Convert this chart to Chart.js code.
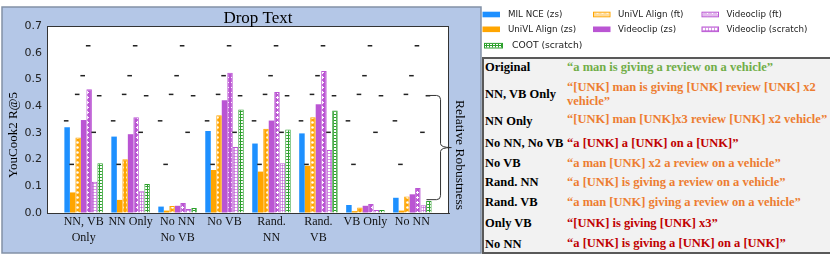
<!DOCTYPE html>
<html>
<head>
<meta charset="utf-8">
<script src="https://cdn.jsdelivr.net/npm/chart.js@4.4.1/dist/chart.umd.min.js"></script>
<style>
  html, body { margin: 0; padding: 0; background: #fff; }
  #wrap { position: relative; width: 830px; height: 260px; overflow: hidden; }
  #chart { position: absolute; left: 0; top: 0; }
  #examples {
    position: absolute; left: 482px; top: 57px; width: 352px; height: 197px;
    box-sizing: border-box; border: 2px solid #595959; background: #f2f2f2;
    font-family: 'Liberation Serif', 'Times New Roman', serif; font-weight: bold; font-size: 12.5px;
  }
  .ex-name, .ex-text { position: absolute; white-space: pre; line-height: 14.4px; }
  .ex-name { left: 1px; color: #000; }
  .ex-text { left: 83px; }
</style>
</head>
<body>
<div id="wrap">
  <canvas id="chart" width="830" height="260"></canvas>
  <div id="examples"></div>
</div>
<script>
'use strict';

// ---- data ----
const groupLabels = [['NN, VB', 'Only'], 'NN Only', ['No NN', 'No VB'], 'No VB', ['Rand.', 'NN'], ['Rand.', 'VB'], 'VB Only', 'No NN'];
const seriesNames = ['MIL NCE (zs)', 'UniVL Align (zs)', 'UniVL Align (ft)', 'Videoclip (zs)', 'Videoclip (ft)', 'Videoclip (scratch)', 'COOT (scratch)'];

const milNceZs         = [0.321, 0.286, 0.024, 0.307, 0.260, 0.298, 0.030, 0.057];
const univlAlignZs     = [0.077, 0.049, 0.009, 0.161, 0.155, 0.177, 0.007, 0.009];
const univlAlignFt     = [0.283, 0.201, 0.026, 0.366, 0.315, 0.358, 0.021, 0.062];
const videoclipZs      = [0.348, 0.295, 0.027, 0.422, 0.346, 0.407, 0.027, 0.070];
const videoclipFt      = [0.463, 0.358, 0.037, 0.525, 0.453, 0.532, 0.034, 0.094];
const videoclipScratch = [0.117, 0.081, 0.015, 0.247, 0.186, 0.236, 0.011, 0.029];
const cootScratch      = [0.186, 0.109, 0.019, 0.387, 0.313, 0.384, 0.011, 0.045];

// score on the original (unperturbed) text, one per model
const originalScores = [0.345, 0.182, 0.444, 0.514, 0.626, 0.302, 0.439];

const yMin = 0;
const yMax = 0.7;
const yStep = 0.1;
const braceRange = [0.05, 0.44];

const exampleNames = ['Original', 'NN, VB Only', 'NN Only', 'No NN, No VB', 'No VB', 'Rand. NN', 'Rand. VB', 'Only VB', 'No NN'];
const exampleTexts = [
  '\u201ca man is giving a review on a vehicle\u201d',
  '\u201c[UNK] man is giving [UNK] review [UNK] x2\nvehicle\u201d',
  '\u201c[UNK] man [UNK]x3 review [UNK] x2 vehicle\u201d',
  '\u201ca [UNK] a [UNK] on a [UNK]\u201d',
  '\u201ca man [UNK] x2 a review on a vehicle\u201d',
  '\u201ca [UNK] is giving a review on a vehicle\u201d',
  '\u201ca man [UNK] giving a review on a vehicle\u201d',
  '\u201c[UNK] is giving [UNK] x3\u201d',
  '\u201ca [UNK] is giving a [UNK] on a [UNK]\u201d'
];
const exampleKinds = ['original', 'mild', 'mild', 'severe', 'mild', 'mild', 'mild', 'severe', 'severe'];

// ---- styling ----
const SERIF = "'Liberation Serif', 'Times New Roman', serif";
const SANS = "'DejaVu Sans', sans-serif";
const BLUE = '#1e90ff';
const ORANGE = '#ffa500';
const ORCHID = '#ba55d3';
const GREEN = '#2ca02c';
const kindColors = { original: '#70ad47', mild: '#ed7d31', severe: '#c00000' };

function tile(size, paint) {
  const c = document.createElement('canvas');
  c.width = size; c.height = size;
  const g = c.getContext('2d');
  paint(g, size);
  return g.createPattern(c, 'repeat');
}

const dotFill = (bg) => tile(5, (g, s) => {
  g.fillStyle = bg; g.fillRect(0, 0, s, s);
  g.fillStyle = '#fff';
  g.beginPath(); g.arc(2.5, 2.5, 1.3, 0, Math.PI * 2); g.fill();
});
const starFill = (bg) => tile(5, (g, s) => {
  g.fillStyle = bg; g.fillRect(0, 0, s, s);
  g.fillStyle = '#fff';
  g.fillRect(2, 1, 1, 3);
  g.fillRect(1, 2, 3, 1);
});
const gridFill = (line, alpha) => tile(3, (g, s) => {
  g.fillStyle = '#fff'; g.fillRect(0, 0, s, s);
  g.globalAlpha = alpha;
  g.fillStyle = line;
  g.fillRect(0, 0, s, 1);
  g.fillRect(0, 0, 1, s);
});

const seriesValues = [milNceZs, univlAlignZs, univlAlignFt, videoclipZs, videoclipFt, videoclipScratch, cootScratch];
const seriesStyle = [
  { fill: BLUE, border: BLUE, bw: 0, hatch: null },
  { fill: ORANGE, border: ORANGE, bw: 0, hatch: null },
  { fill: dotFill(ORANGE), border: ORANGE, bw: 1, hatch: 'light' },
  { fill: ORCHID, border: ORCHID, bw: 0, hatch: null },
  { fill: starFill(ORCHID), border: ORCHID, bw: 1, hatch: 'light' },
  { fill: gridFill(ORCHID, 0.6), border: ORCHID, bw: 1, hatch: 'grid' },
  { fill: gridFill(GREEN, 1), border: GREEN, bw: 1, hatch: 'grid' }
];

const CAT_PCT = 0.82;
const slot = CAT_PCT / seriesNames.length;

const barSets = seriesNames.map((name, j) => ({
  type: 'bar',
  label: name,
  data: seriesValues[j].map((v, i) => ({ x: i, y: v })),
  backgroundColor: seriesStyle[j].fill,
  borderColor: seriesStyle[j].border,
  borderWidth: seriesStyle[j].bw,
  borderSkipped: 'bottom',
  categoryPercentage: CAT_PCT,
  barPercentage: 1,
  order: 2
}));

// short black dashes marking each model's original score above every group
const dashSets = seriesNames.map((name, j) => ({
  type: 'scatter',
  label: name + ' original',
  data: groupLabels.map((_, i) => ({ x: i + (j - 3) * slot - 0.02, y: originalScores[j] })),
  pointStyle: 'line',
  radius: 2.3,
  borderWidth: 1.5,
  borderColor: '#222',
  order: 1
}));

// ---- legend slots (matplotlib legend, 3 columns) ----
const legendSlots = [
  { x: 482.5, y: 14.5, w: 17.5, tx: 508, size: 8.7 },
  { x: 482.5, y: 29.3, w: 17.5, tx: 508, size: 8.7 },
  { x: 593, y: 14.5, w: 17.5, tx: 618, size: 8.7 },
  { x: 593, y: 29.3, w: 17.5, tx: 618, size: 8.7 },
  { x: 701.5, y: 14.5, w: 17.5, tx: 726.5, size: 8.7 },
  { x: 701.5, y: 29.3, w: 17.5, tx: 726.5, size: 8.7 },
  { x: 484, y: 45.7, w: 19, tx: 512, size: 9.2 }
];

const decor = {
  id: 'decor',
  beforeDraw(chart) {
    const { ctx, chartArea: a } = chart;
    ctx.save();
    ctx.fillStyle = '#fff';
    ctx.fillRect(0, 0, chart.width, chart.height);
    ctx.fillStyle = '#b4c7e7';
    ctx.fillRect(2, 7, 479, 246);
    ctx.strokeStyle = '#8391a6';
    ctx.lineWidth = 1.5;
    ctx.strokeRect(2, 7, 479, 246);
    ctx.fillStyle = '#fff';
    ctx.fillRect(a.left, a.top, a.right - a.left, a.bottom - a.top);
    ctx.restore();
  },
  afterDraw(chart) {
    const { ctx, chartArea: a, scales } = chart;
    ctx.save();
    // spines
    ctx.strokeStyle = '#333';
    ctx.lineWidth = 1;
    ctx.strokeRect(a.left + 0.5, a.top + 0.5, a.right - a.left - 1, a.bottom - a.top);

    // title
    ctx.fillStyle = '#000';
    ctx.font = '17px ' + SERIF;
    ctx.textAlign = 'center';
    ctx.textBaseline = 'alphabetic';
    ctx.fillText('Drop Text', 258, 22.5);

    // y label
    ctx.save();
    ctx.translate(13.5, 135);
    ctx.rotate(-Math.PI / 2);
    ctx.font = '13px ' + SERIF;
    ctx.textBaseline = 'middle';
    ctx.fillText('YouCook2 R@5', 0, 0);
    ctx.restore();

    // brace on the right
    const yT = scales.y.getPixelForValue(braceRange[1]);
    const yB = scales.y.getPixelForValue(braceRange[0]);
    const yM = (yT + yB) / 2;
    const xL = scales.x.getPixelForValue(7.3);
    const xV = scales.x.getPixelForValue(7.6);
    const xP = scales.x.getPixelForValue(7.83);
    const r = 4;
    ctx.strokeStyle = '#333';
    ctx.lineWidth = 1;
    ctx.beginPath();
    ctx.moveTo(xL, yT);
    ctx.lineTo(xV - r, yT);
    ctx.quadraticCurveTo(xV, yT, xV, yT + r);
    ctx.lineTo(xV, yM - r);
    ctx.quadraticCurveTo(xV, yM, xP, yM);
    ctx.moveTo(xP, yM);
    ctx.quadraticCurveTo(xV, yM, xV, yM + r);
    ctx.lineTo(xV, yB - r);
    ctx.quadraticCurveTo(xV, yB, xV - r, yB);
    ctx.lineTo(xL, yB);
    ctx.stroke();

    ctx.save();
    ctx.translate(459.5, 155);
    ctx.rotate(Math.PI / 2);
    ctx.font = '13.5px ' + SERIF;
    ctx.textAlign = 'center';
    ctx.textBaseline = 'middle';
    ctx.fillStyle = '#000';
    ctx.fillText('Relative Robustness', 0, 0);
    ctx.restore();

    // legend
    chart.data.datasets.slice(0, seriesNames.length).forEach((ds, j) => {
      const s = legendSlots[j];
      const st = seriesStyle[j];
      const h = 5.6;
      const top = s.y - h / 2;
      if (!st.hatch) {
        ctx.fillStyle = ds.backgroundColor;
        ctx.fillRect(s.x, top, s.w, h);
      } else {
        ctx.fillStyle = '#fff';
        ctx.fillRect(s.x, top, s.w, h);
        ctx.globalAlpha = st.hatch === 'light' ? 0.4 : 1;
        ctx.fillStyle = ds.backgroundColor;
        ctx.fillRect(s.x + 1, top + 1, s.w - 2, h - 2);
        ctx.globalAlpha = 1;
        ctx.strokeStyle = ds.borderColor;
        ctx.lineWidth = 1;
        ctx.strokeRect(s.x + 0.5, top + 0.5, s.w - 1, h - 1);
      }
      ctx.fillStyle = '#222';
      ctx.font = s.size + 'px ' + SANS;
      ctx.textAlign = 'left';
      ctx.textBaseline = 'middle';
      ctx.fillText(ds.label, s.tx, s.y);
    });
    ctx.restore();
  }
};

new Chart(document.getElementById('chart'), {
  type: 'bar',
  data: { datasets: [...barSets, ...dashSets] },
  options: {
    responsive: false,
    devicePixelRatio: 1,
    animation: false,
    layout: { padding: { left: 0, right: 381, top: 26, bottom: 0 } },
    plugins: {
      legend: { display: false },
      title: { display: false },
      tooltip: { enabled: false }
    },
    scales: {
      x: {
        type: 'linear',
        min: -0.78,
        max: 7.78,
        offset: false,
        afterFit: (axis) => { axis.height = 47; },
        afterBuildTicks: (axis) => { axis.ticks = groupLabels.map((_, i) => ({ value: i })); },
        grid: { display: true, drawOnChartArea: false, drawTicks: false, offset: false },
        border: { display: true, color: '#333', width: 1 },
        ticks: {
          autoSkip: false,
          maxRotation: 0,
          minRotation: 0,
          padding: 1,
          color: '#111',
          font: { family: SERIF, size: 12, lineHeight: 1.3 },
          callback: (value, index) => groupLabels[index]
        }
      },
      y: {
        min: yMin,
        max: yMax,
        afterFit: (axis) => { axis.width = 47; },
        grid: { display: true, drawOnChartArea: false, drawTicks: false },
        border: { display: true, color: '#333', width: 1 },
        ticks: {
          stepSize: yStep,
          padding: 5,
          color: '#222',
          font: { family: SANS, size: 11 },
          callback: (v) => v.toFixed(1)
        }
      }
    }
  },
  plugins: [decor]
});

// ---- example sentences box ----
const rowTops = [1, 28, 55, 77, 96.5, 116, 136, 157, 178];
const textTops = [1, 21, 53, 77, 96.5, 116, 136, 157, 177];
const box = document.getElementById('examples');
exampleNames.forEach((name, i) => {
  const n = document.createElement('div');
  n.className = 'ex-name';
  n.style.top = rowTops[i] + 'px';
  n.textContent = name;
  const t = document.createElement('div');
  t.className = 'ex-text';
  t.style.top = textTops[i] + 'px';
  t.style.color = kindColors[exampleKinds[i]];
  t.textContent = exampleTexts[i];
  box.appendChild(n);
  box.appendChild(t);
});
</script>
</body>
</html>
